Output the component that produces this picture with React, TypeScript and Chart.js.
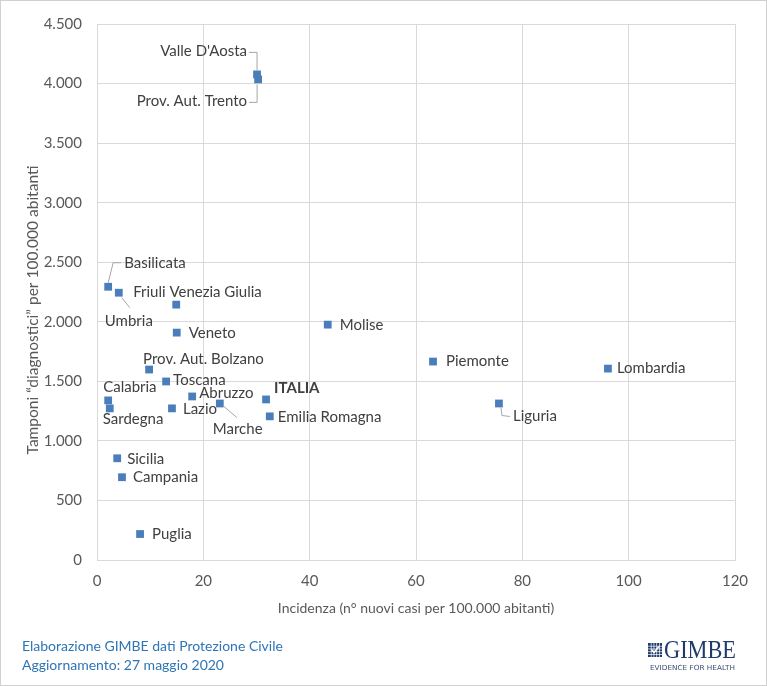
import React, { useEffect, useRef } from "react";
import { Chart, registerables } from "chart.js";

Chart.register(...registerables);

// Regional data: incidence (new cases per 100,000) vs diagnostic swabs per 100,000
const REGIONS = [
  "Valle D'Aosta",
  "Prov. Aut. Trento",
  "Basilicata",
  "Umbria",
  "Friuli Venezia Giulia",
  "Veneto",
  "Prov. Aut. Bolzano",
  "Toscana",
  "Calabria",
  "Sardegna",
  "Abruzzo",
  "Lazio",
  "Marche",
  "ITALIA",
  "Emilia Romagna",
  "Molise",
  "Piemonte",
  "Lombardia",
  "Liguria",
  "Sicilia",
  "Campania",
  "Puglia",
];

const INCIDENCE = [
  30.1, 30.3, 2.1, 4.1, 14.9, 15.0, 9.8, 13.0, 2.1, 2.4, 17.9, 14.1, 23.1, 31.8,
  32.5, 43.4, 63.2, 96.1, 75.6, 3.8, 4.7, 8.1,
];

const SWABS = [
  4077, 4035, 2294, 2244, 2144, 1909, 1599, 1499, 1340, 1273, 1373, 1273, 1314,
  1348, 1206, 1976, 1666, 1607, 1314, 854, 695, 218,
];

const X_TICKS = [0, 20, 40, 60, 80, 100, 120];
const Y_TICKS = [0, 500, 1000, 1500, 2000, 2500, 3000, 3500, 4000, 4500];

const X_TITLE = "Incidenza (n° nuovi casi per 100.000 abitanti)";
const Y_TITLE = "Tamponi “diagnostici” per 100.000 abitanti";
const FOOTER_LINES = [
  "Elaborazione GIMBE dati Protezione Civile",
  "Aggiornamento: 27 maggio 2020",
];

// Label placement relative to each marker (pixels), with optional leader lines
type Placement = {
  dx: number;
  dy: number;
  align: CanvasTextAlign;
  leader?: [number, number][];
  bold?: boolean;
};

const PLACEMENT: Record<string, Placement> = {
  "Valle D'Aosta": { dx: -10, dy: -23, align: "right", leader: [[-8, -22], [0, -22], [0, -4]] },
  "Prov. Aut. Trento": { dx: -11, dy: 22, align: "right", leader: [[-9, 23], [-1, 23], [-1, 5]] },
  Basilicata: { dx: 16, dy: -24, align: "left", leader: [[13, -24], [5, -24], [0, -4]] },
  Umbria: { dx: -14, dy: 28, align: "left", leader: [[3, 5], [11, 15]] },
  "Friuli Venezia Giulia": { dx: -43, dy: -12, align: "left" },
  Veneto: { dx: 12, dy: 1, align: "left" },
  "Prov. Aut. Bolzano": { dx: -6, dy: -10, align: "left" },
  Toscana: { dx: 7, dy: -1, align: "left" },
  Calabria: { dx: -5, dy: -13, align: "left" },
  Sardegna: { dx: -7, dy: 11, align: "left" },
  Abruzzo: { dx: 7, dy: -3, align: "left" },
  Lazio: { dx: 11, dy: 1, align: "left" },
  Marche: { dx: -7, dy: 26, align: "left", leader: [[3, 2], [17, 14]] },
  ITALIA: { dx: 8, dy: -11, align: "left", bold: true },
  "Emilia Romagna": { dx: 8, dy: 1, align: "left" },
  Molise: { dx: 12, dy: 1, align: "left" },
  Piemonte: { dx: 13, dy: 0, align: "left" },
  Lombardia: { dx: 9, dy: 0, align: "left" },
  Liguria: { dx: 14, dy: 13, align: "left", leader: [[2, 4], [3, 12], [11, 13]] },
  Sicilia: { dx: 10, dy: 1, align: "left" },
  Campania: { dx: 11, dy: 0, align: "left" },
  Puglia: { dx: 12, dy: 0, align: "left" },
};

const FONT = "Lato, 'Open Sans', sans-serif";
const GRID = "#d9d9d9";
const MARKER = "#4a7ebb";
const TEXT = "#404040";
const TICK_TEXT = "#595959";

const fmtThousands = (v: number) =>
  String(Math.round(v)).replace(/\B(?=(\d{3})+(?!\d))/g, ".");

const drawLogo = (ctx: CanvasRenderingContext2D) => {
  const navy = "#1f3a6b";
  // grid icon
  const ix = 648;
  const iy = 643;
  const s = 14;
  ctx.fillStyle = navy;
  ctx.fillRect(ix, iy, s, s);
  ctx.fillStyle = "#ffffff";
  for (let k = 1; k < 5; k++) {
    ctx.fillRect(ix + (k * s) / 5, iy, 0.7, s);
    ctx.fillRect(ix, iy + (k * s) / 5, s, 0.7);
  }
  ctx.strokeStyle = "#ffffff";
  ctx.lineWidth = 1.5;
  ctx.beginPath();
  ctx.moveTo(ix + 3.5, iy + 6.5);
  ctx.lineTo(ix + 6, iy + 9.5);
  ctx.lineTo(ix + 11, iy + 3.5);
  ctx.stroke();

  // wordmark
  ctx.fillStyle = navy;
  ctx.textAlign = "left";
  ctx.textBaseline = "alphabetic";
  ctx.font = "25px 'Liberation Serif', 'DejaVu Serif', serif";
  const w = ctx.measureText("GIMBE").width;
  ctx.save();
  ctx.translate(664, 658);
  ctx.scale(72 / w, 1);
  ctx.fillText("GIMBE", 0, 0);
  ctx.restore();

  ctx.fillStyle = "#3b4f73";
  ctx.font = "7px 'DejaVu Sans', sans-serif";
  const w2 = ctx.measureText("EVIDENCE FOR HEALTH").width;
  ctx.save();
  ctx.translate(650, 670);
  ctx.scale(85 / w2, 1);
  ctx.fillText("EVIDENCE FOR HEALTH", 0, 0);
  ctx.restore();
};

const annotations = {
  id: "annotations",
  afterDatasetsDraw(chart: Chart) {
    const ctx = chart.ctx;
    const meta = chart.getDatasetMeta(0);
    ctx.save();
    meta.data.forEach((el: any, i: number) => {
      const name = REGIONS[i];
      const p = PLACEMENT[name];
      if (!p) return;
      const { x, y } = el.getProps(["x", "y"], true);
      if (p.leader) {
        ctx.strokeStyle = "#a6a6a6";
        ctx.lineWidth = 1;
        ctx.beginPath();
        p.leader.forEach(([lx, ly], k) => {
          if (k === 0) ctx.moveTo(x + lx, y + ly);
          else ctx.lineTo(x + lx, y + ly);
        });
        ctx.stroke();
      }
      ctx.fillStyle = TEXT;
      ctx.font = `${p.bold ? "bold " : ""}15px ${FONT}`;
      ctx.textAlign = p.align;
      ctx.textBaseline = "middle";
      ctx.fillText(name, x + p.dx, y + p.dy);
    });
    ctx.restore();
  },
  afterDraw(chart: Chart) {
    const ctx = chart.ctx;
    ctx.save();
    // vertical axis title
    ctx.save();
    ctx.translate(33, 310);
    ctx.rotate(-Math.PI / 2);
    ctx.fillStyle = TICK_TEXT;
    ctx.font = `15.5px ${FONT}`;
    ctx.textAlign = "center";
    ctx.textBaseline = "middle";
    ctx.fillText(Y_TITLE, 0, 0);
    ctx.restore();
    // footer
    ctx.fillStyle = "#2e75b6";
    ctx.font = `14px ${FONT}`;
    ctx.textAlign = "left";
    ctx.textBaseline = "middle";
    FOOTER_LINES.forEach((line, i) => ctx.fillText(line, 22, 646 + i * 19));
    drawLogo(ctx);
    // outer frame
    ctx.strokeStyle = "#d0d0d0";
    ctx.lineWidth = 1;
    ctx.strokeRect(0.5, 0.5, chart.width - 1, chart.height - 1);
    ctx.restore();
  },
};

export default function App() {
  const ref = useRef<HTMLCanvasElement | null>(null);

  useEffect(() => {
    document.body.style.margin = "0";
    const canvas = ref.current;
    if (!canvas) return;
    const chart = new Chart(canvas, {
      type: "scatter",
      data: {
        datasets: [
          {
            label: "Regioni",
            data: INCIDENCE.map((x, i) => ({ x, y: SWABS[i] })),
            backgroundColor: MARKER,
            borderColor: MARKER,
            borderWidth: 0,
            pointStyle: "rect",
            pointRadius: 5.5,
            pointHoverRadius: 5.5,
          },
        ],
      },
      options: {
        animation: false,
        responsive: false,
        devicePixelRatio: 1,
        events: [],
        layout: { padding: { left: 0, top: 22, right: 32, bottom: 66 } },
        plugins: {
          legend: { display: false },
          tooltip: { enabled: false },
        },
        scales: {
          x: {
            type: "linear",
            min: X_TICKS[0],
            max: X_TICKS[X_TICKS.length - 1],
            afterBuildTicks: (scale: any) => {
              scale.ticks = X_TICKS.map((value) => ({ value }));
            },
            afterFit: (scale: any) => {
              scale.height = 60;
            },
            grid: { color: GRID, drawTicks: false, lineWidth: 1 },
            border: { color: GRID },
            ticks: {
              padding: 12,
              color: TICK_TEXT,
              font: { family: FONT, size: 15 },
              maxRotation: 0,
              callback: (v: any) => String(v),
            },
            title: {
              display: true,
              text: X_TITLE,
              color: TICK_TEXT,
              font: { family: FONT, size: 14 },
              padding: { top: 0, bottom: 3 },
            },
          },
          y: {
            type: "linear",
            min: Y_TICKS[0],
            max: Y_TICKS[Y_TICKS.length - 1],
            afterBuildTicks: (scale: any) => {
              scale.ticks = Y_TICKS.map((value) => ({ value }));
            },
            afterFit: (scale: any) => {
              scale.width = 97;
            },
            grid: { color: GRID, drawTicks: false, lineWidth: 1 },
            border: { color: GRID },
            ticks: {
              padding: 15,
              color: TICK_TEXT,
              font: { family: FONT, size: 15 },
              callback: (v: any) => fmtThousands(Number(v)),
            },
            title: { display: false, text: Y_TITLE },
          },
        },
      },
      plugins: [annotations],
    });
    return () => chart.destroy();
  }, []);

  return (
    <div style={{ position: "absolute", left: 0, top: 0, width: 767, height: 686, background: "#ffffff" }}>
      <canvas ref={ref} width={767} height={686} style={{ display: "block", width: 767, height: 686 }} />
    </div>
  );
}
